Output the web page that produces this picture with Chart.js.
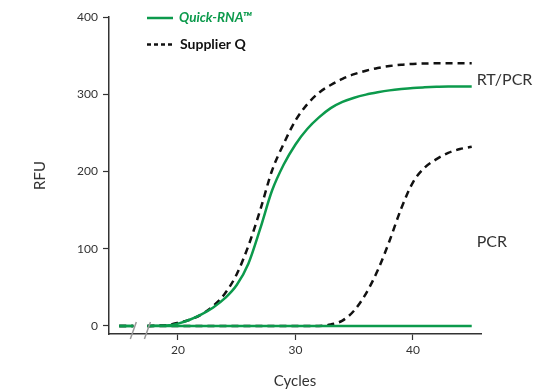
<!DOCTYPE html>
<html>
<head>
<meta charset="utf-8">
<script src="https://cdn.jsdelivr.net/npm/chart.js@4.4.0/dist/chart.umd.min.js"></script>
<style>
    html, body { margin: 0; padding: 0; background: #fff; }
</style>
</head>
<body>
<canvas id="qpcrChart" width="541" height="392"></canvas>
<script>
// Data (RFU vs cycle). null = gap at the axis break.
const cycles    = [15, 16.2, 16.8, 17.4, 18, 19, 20, 21, 22, 23, 24, 25, 26, 27, 28, 29, 30, 31, 32, 33, 34, 35, 36, 37, 38, 39, 40, 41, 42, 43, 44, 45];
const quickRT   = [0, 0, null, 0, 0.2, 0.6, 3, 8, 15, 24, 36, 53, 81, 126, 175, 209, 235, 255, 270, 282, 290, 295.5, 299.5, 302.5, 305, 306.8, 308.2, 309, 309.6, 310, 310, 310];
const quickPCR  = [0, 0, null, 0, 0, 0, 0, 0, 0, 0, 0, 0, 0, 0, 0, 0, 0, 0, 0, 0, 0, 0, 0, 0, 0, 0, 0, 0, 0, 0, 0, 0];
const supplierRT  = [0, 0, null, 0, 0.3, 1, 4, 8, 15, 26, 42, 67, 104, 150, 201, 236, 266, 287, 302, 312, 320, 326, 330.5, 334, 336.5, 338.3, 339.3, 339.8, 340, 340, 340, 340];
const supplierPCR = [0, 0, null, 0, 0, 0, 0, 0, 0, 0, 0, 0, 0, 0, 0, 0, 0, 0, 0, 2, 7, 20, 42, 72, 110, 152, 186, 205, 216, 224, 229, 232];

const xTicks = [20, 30, 40];
const yTicks = [0, 100, 200, 300, 400];
const breakAt = [16.2, 17.4];

const colors = {
    green: '#0c9a4c',
    black: '#111111',
    text: '#333333',
    axis: '#333333',
    breakMark: '#9a9a9a'
};

const fontFamily = 'Lato, "Noto Sans", sans-serif';

function toPoints(values) {
    return cycles.map((c, i) => ({ x: c, y: values[i] }));
}

// legend, axis-break slashes and curve labels
const decorPlugin = {
    id: 'decor',
    afterDraw(chart) {
        const { ctx, scales: { x, y }, chartArea } = chart;
        ctx.save();

        // axis break
        ctx.strokeStyle = colors.breakMark;
        ctx.lineWidth = 1.5;
        breakAt.forEach(c => {
            const px = x.getPixelForValue(c);
            ctx.beginPath();
            ctx.moveTo(px - 3, chartArea.bottom + 5);
            ctx.lineTo(px + 3, chartArea.bottom - 12);
            ctx.stroke();
        });

        // legend
        ctx.lineWidth = 2.5;
        ctx.strokeStyle = colors.green;
        ctx.beginPath();
        ctx.moveTo(147, 18);
        ctx.lineTo(173, 18);
        ctx.stroke();

        ctx.strokeStyle = colors.black;
        ctx.setLineDash([4, 3]);
        ctx.beginPath();
        ctx.moveTo(147, 44.5);
        ctx.lineTo(173, 44.5);
        ctx.stroke();
        ctx.setLineDash([]);

        ctx.textBaseline = 'middle';
        ctx.textAlign = 'left';
        ctx.fillStyle = colors.green;
        ctx.font = 'italic bold 13.5px ' + fontFamily;
        ctx.fillText('Quick-RNA\u2122', 179, 18);
        ctx.fillStyle = colors.black;
        ctx.font = 'bold 14px ' + fontFamily;
        ctx.fillText('Supplier Q', 180, 44);

        // curve labels
        ctx.fillStyle = colors.text;
        ctx.font = '16px ' + fontFamily;
        const lx = x.getPixelForValue(45) + 5;
        ctx.fillText('RT/PCR', lx, y.getPixelForValue(318));
        ctx.fillText('PCR', lx, y.getPixelForValue(109));

        ctx.restore();
    }
};

const ctx = document.getElementById('qpcrChart').getContext('2d');
new Chart(ctx, {
    type: 'line',
    data: {
        datasets: [
            {
                label: 'Quick-RNA PCR',
                data: toPoints(quickPCR),
                borderColor: colors.green,
                borderWidth: 2.5,
                pointRadius: 0,
                cubicInterpolationMode: 'monotone'
            },
            {
                label: 'Quick-RNA RT/PCR',
                data: toPoints(quickRT),
                borderColor: colors.green,
                borderWidth: 2.5,
                pointRadius: 0,
                cubicInterpolationMode: 'monotone'
            },
            {
                label: 'Supplier Q RT/PCR',
                data: toPoints(supplierRT),
                borderColor: colors.black,
                borderWidth: 2.5,
                borderDash: [7, 5],
                pointRadius: 0,
                cubicInterpolationMode: 'monotone'
            },
            {
                label: 'Supplier Q PCR',
                data: toPoints(supplierPCR),
                borderColor: colors.black,
                borderWidth: 2.5,
                borderDash: [7, 5],
                pointRadius: 0,
                cubicInterpolationMode: 'monotone'
            }
        ]
    },
    options: {
        responsive: false,
        animation: false,
        spanGaps: false,
        layout: {
            padding: { left: 0, top: 17, right: 60, bottom: 0 }
        },
        scales: {
            x: {
                type: 'linear',
                min: 14.13,
                max: 45.79,
                afterFit: scale => { scale.height = 58; },
                afterBuildTicks: scale => { scale.ticks = xTicks.map(v => ({ value: v })); },
                grid: { drawOnChartArea: false, tickLength: 6, tickColor: colors.axis, tickWidth: 1.2 },
                border: { color: colors.axis, width: 1.5 },
                ticks: { color: colors.text, font: { family: fontFamily, size: 12 }, padding: 3 },
                title: {
                    display: true,
                    text: 'Cycles',
                    color: colors.text,
                    font: { family: fontFamily, size: 15 },
                    padding: { top: 0, bottom: 2 }
                }
            },
            y: {
                min: -10.4,
                max: 400,
                afterFit: scale => { scale.width = 109; },
                afterBuildTicks: scale => { scale.ticks = yTicks.map(v => ({ value: v })); },
                grid: { drawOnChartArea: false, tickLength: 6, tickColor: colors.axis, tickWidth: 1.2 },
                border: { color: colors.axis, width: 1.5 },
                ticks: { color: colors.text, font: { family: fontFamily, size: 12 }, padding: 5 },
                title: {
                    display: true,
                    text: 'RFU',
                    color: colors.text,
                    font: { family: fontFamily, size: 15 },
                    padding: { top: 31, bottom: 0 }
                }
            }
        },
        plugins: {
            legend: { display: false },
            tooltip: { enabled: false }
        }
    },
    plugins: [decorPlugin]
});
</script>
</body>
</html>
